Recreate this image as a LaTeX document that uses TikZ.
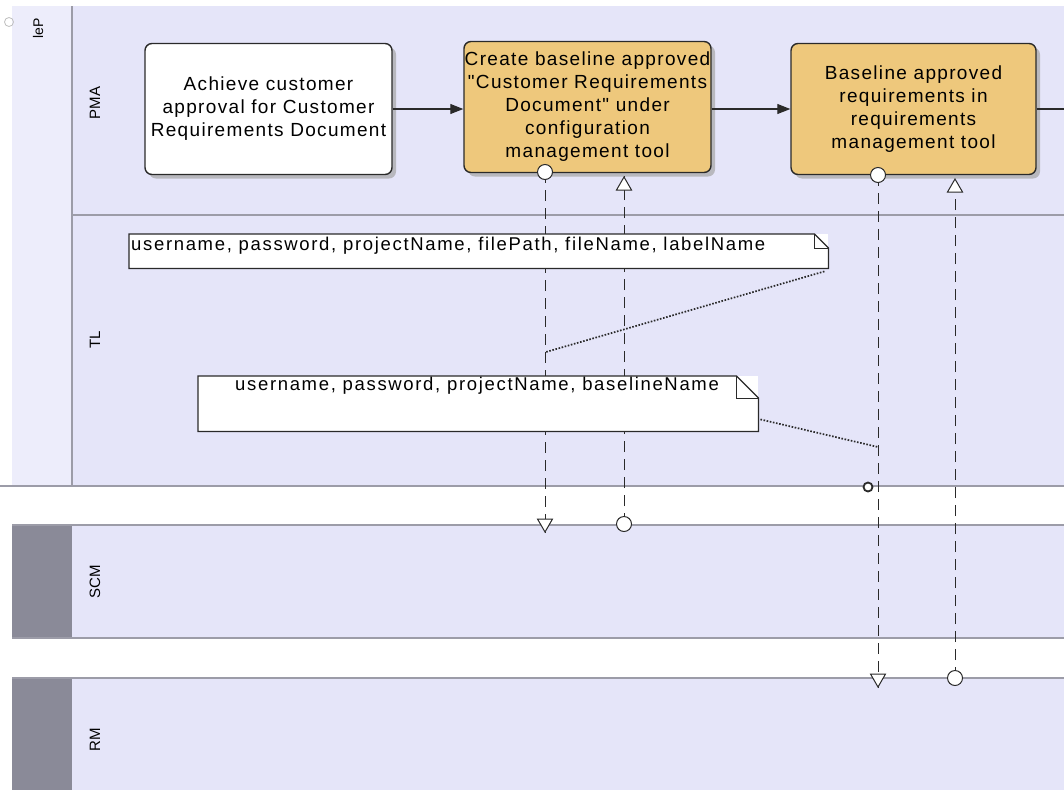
\documentclass[tikz,border=0pt]{standalone}
\usepackage{fontspec}
\setmainfont{Liberation Sans}
\newfontfamily\boxfont[LetterSpace=7]{Liberation Sans}
\newfontfamily\notefont[LetterSpace=9]{Liberation Sans}
\usetikzlibrary{arrows.meta,shadows,calc,shapes.geometric}
\definecolor{lanebg}{HTML}{E5E5F9}
\definecolor{laneline}{HTML}{9C9CA8}
\definecolor{strip}{HTML}{8A8A98}
\definecolor{task}{HTML}{EEC87C}
\definecolor{ink}{HTML}{2A2A2A}
\tikzset{
  taskbox/.style={draw=ink, line width=1.4pt, rounded corners=7pt, fill=task,
    minimum width=247pt, minimum height=131pt, align=center, inner sep=0pt,
    font=\boxfont\fontsize{19}{23}\selectfont,
    drop shadow={shadow xshift=4pt, shadow yshift=-4pt, fill=black!35, opacity=.7}},
  whitebox/.style={taskbox, fill=white},
  flow/.style={draw=ink, line width=1.2pt, -{Triangle[length=13pt,width=10pt]}},
  dataflow/.style={draw=ink, line width=1pt, dash pattern=on 11pt off 7pt},
  link/.style={draw=ink, line width=1.7pt, dash pattern=on 1.6pt off 1.6pt},
  notebox/.style={fill=white, minimum width=#1, inner sep=0pt},
  notetext/.style={font=\notefont\fontsize{18.5}{22}\selectfont, anchor=north west, inner sep=0pt},
  portcirc/.style={circle, draw=ink, fill=white, line width=1pt, minimum size=15pt, inner sep=0pt},
  porttri/.style={isosceles triangle, isosceles triangle apex angle=60, draw=ink, fill=white,
    line width=1pt, minimum height=13pt, minimum width=15pt, inner sep=0pt, anchor=apex},
  lanelabel/.style={rotate=90, font=\fontsize{15}{18}\selectfont},
}
\begin{document}
\begin{tikzpicture}[x=1pt,y=-1pt]
\useasboundingbox (0,0) rectangle (1064,790);
\fill[white] (0,0) rectangle (1064,790);

% top pool: header strip and the PMA / TL lanes
\fill[lanebg] (12,6) rectangle (1064,486);
\fill[lanebg!70!white] (12,6) rectangle (72,486);
\draw[laneline, line width=1.2pt] (72,6) -- (72,486);
\draw[laneline, line width=1.2pt] (72,215) -- (1064,215);
\begin{scope}
  \clip (12,8) rectangle (72,486);
  \node[lanelabel, anchor=west, font=\fontsize{14}{16}\selectfont] (pool) at (38,42) {leP};
\end{scope}
\draw[black!25, line width=.8pt] (9,22) circle (4.5pt);

% separator bands between pools
\draw[laneline, line width=1.6pt] (0,486) -- (1064,486);
\draw[laneline, line width=1.6pt] (12,525) -- (1064,525);

% SCM pool
\fill[lanebg] (72,526) rectangle (1064,637);
\fill[strip] (12,526) rectangle (72,637);
\draw[laneline, line width=1.6pt] (12,638) -- (1064,638);
\draw[laneline, line width=1.6pt] (12,678) -- (1064,678);

% RM pool
\fill[lanebg] (72,679) rectangle (1064,790);
\fill[strip] (12,679) rectangle (72,790);

% lane names
\node[lanelabel] (pma) at (95,103) {PMA};
\node[lanelabel] (tl) at (95,340) {TL};
\node[lanelabel] (scm) at (95,582) {SCM};
\node[lanelabel] (rm) at (95,740) {RM};

% activities
\node[whitebox] (a1) at (268.5,109) {Achieve customer\\approval for Customer\\Requirements Document};
\node[taskbox] (a2) at (587.5,107) {Create baseline approved\\"Customer Requirements\\Document" under\\configuration\\management tool};
\node[taskbox, minimum width=245pt] (a3) at (913.5,109) {Baseline approved\\requirements in\\requirements\\management tool};
\coordinate (exit) at (1064,109);

% control flow
\draw[flow] (a1.east) -- (a2.west |- a1.east);
\draw[flow] (a2.east |- a3.west) -- (a3.west);
\draw[draw=ink, line width=1.2pt] (a3.east) -- (exit);

% data flow end points
\coordinate (o1) at (545,172);
\coordinate (i1) at (545,533);
\coordinate (o2) at (624,524);
\coordinate (i2) at (624,176);
\coordinate (o3) at (878,175);
\coordinate (i3) at (878,688);
\coordinate (o4) at (955,678);
\coordinate (i4) at (955,178);

\draw[dataflow] (o1) -- (i1);
\draw[dataflow] (o2) -- (i2);
\draw[dataflow] (o3) -- (i3);
\draw[dataflow] (o4) -- (i4);

% ports
\node[portcirc] (p1) at (o1) {};
\node[porttri, shape border rotate=-90] (p2) at (i1) {};
\node[portcirc] (p3) at (o2) {};
\node[porttri, shape border rotate=90] (p4) at (i2) {};
\node[portcirc] (p5) at (o3) {};
\node[porttri, shape border rotate=-90] (p6) at (i3) {};
\node[portcirc] (p7) at (o4) {};
\node[porttri, shape border rotate=90] (p8) at (i4) {};
\node[circle, draw=ink, line width=1.8pt, fill=white, minimum size=9pt, inner sep=0pt] (ev) at (868,487) {};

% annotation notes
\node[notebox=699pt, minimum height=34pt, anchor=north west] (n1) at (129,234) {};
\draw[ink, line width=1.2pt] (n1.north west) -- ($(n1.north east)+(-14,0)$) -- ($(n1.north east)+(0,14)$) -- (n1.south east) -- (n1.south west) -- cycle;
\draw[ink, line width=1pt] ($(n1.north east)+(-14,0)$) |- ($(n1.north east)+(0,14)$);
\node[notetext] (t1) at (131,237) {username, password, projectName, filePath, fileName, labelName};
\coordinate (c1) at (546,352);
\draw[link] ($(n1.south east)+(-4,3)$) -- (c1);

\node[notebox=560pt, minimum height=55pt, anchor=north west] (n2) at (198,376) {};
\draw[ink, line width=1.2pt] (n2.north west) -- ($(n2.north east)+(-22,0)$) -- ($(n2.north east)+(0,22)$) -- (n2.south east) -- (n2.south west) -- cycle;
\draw[ink, line width=1pt] ($(n2.north east)+(-22,0)$) |- ($(n2.north east)+(0,22)$);
\node[notetext] (t2) at (235,377) {username, password, projectName, baselineName};
\coordinate (c2) at (878,447);
\draw[link] ($(n2.south east)+(2,-12)$) -- (c2);
\end{tikzpicture}
\end{document}
